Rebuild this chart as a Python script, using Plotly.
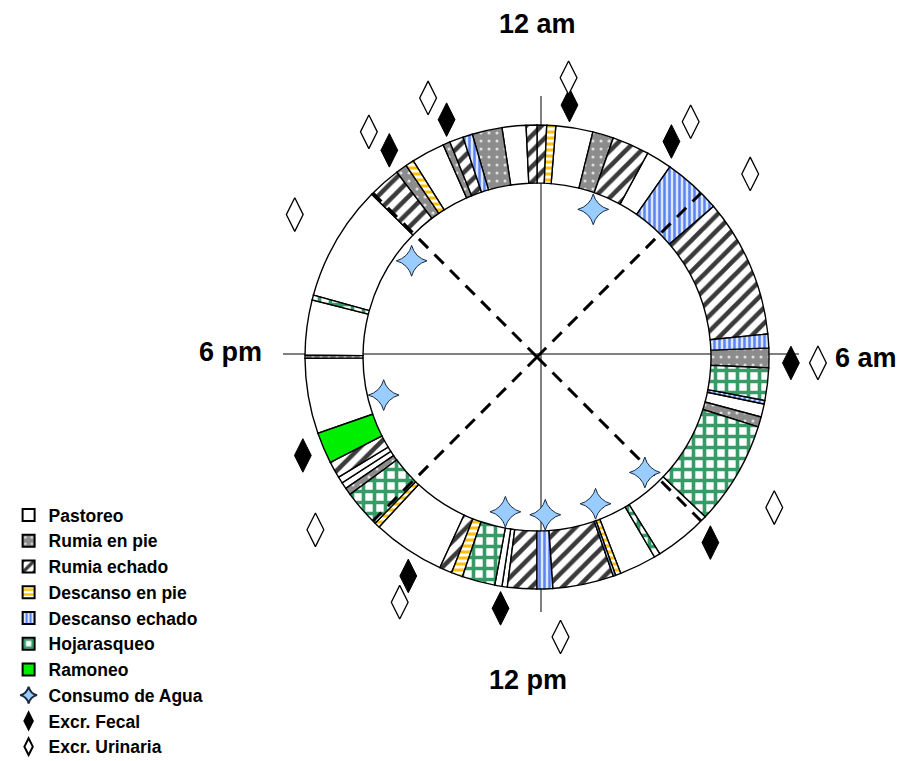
import plotly.graph_objects as go

W, H = 906, 761
FONT = "Liberation Sans, Arial, sans-serif"

# ---------------- data (hours of the day, 0 = 12 am) ----------------
boundaries_h = [0.00, 0.16, 0.31, 0.93, 1.28, 1.90, 2.33, 3.30, 5.62, 5.85,
                6.18, 6.72, 6.78, 7.00, 7.17, 8.90, 9.87, 9.97, 10.59, 10.68,
                10.72, 11.74, 12.00, 12.49, 12.58, 12.70, 13.25, 13.44, 13.65, 14.86,
                14.95, 15.58, 15.70, 15.81, 15.92, 16.20, 16.72, 17.98, 18.03, 18.95,
                19.03, 20.97, 21.52, 21.71, 21.85, 22.41, 22.53, 22.76, 22.92, 23.42,
                23.82, 24.00]
activity_seq = ["Rumia echado", "Descanso en pie", "Pastoreo", "Rumia en pie", "Rumia echado",
                "Pastoreo", "Descanso echado", "Rumia echado", "Descanso echado", "Rumia en pie",
                "Hojarasqueo", "Descanso echado", "Pastoreo", "Rumia en pie", "Hojarasqueo",
                "Pastoreo", "Hojarasqueo", "Pastoreo", "Descanso en pie", "Descanso echado",
                "Rumia echado", "Descanso echado", "Rumia echado", "Pastoreo", "Pastoreo",
                "Hojarasqueo", "Descanso en pie", "Rumia echado", "Pastoreo", "Descanso en pie",
                "Hojarasqueo", "Rumia en pie", "Pastoreo", "Pastoreo", "Rumia echado",
                "Ramoneo", "Pastoreo", "Rumia en pie", "Pastoreo", "Hojarasqueo",
                "Pastoreo", "Rumia echado", "Rumia en pie", "Descanso en pie", "Pastoreo",
                "Rumia en pie", "Rumia echado", "Descanso echado", "Rumia en pie", "Pastoreo",
                "Rumia echado"]
activities = ["Pastoreo", "Rumia en pie", "Rumia echado", "Descanso en pie",
              "Descanso echado", "Hojarasqueo", "Ramoneo"]
water_h = [1.39, 9.13, 10.55, 11.80, 12.77, 17.07, 20.50]
fecal_h = [0.49, 2.13, 6.09, 9.13, 12.55, 14.03, 16.48, 21.63, 22.61]
urine_h = [0.43, 2.21, 3.29, 6.08, 8.16, 11.68, 13.95, 15.47, 20.03, 21.55, 22.48]
divider_h = [3, 9, 15, 21]
clock_labels = ["12 am", "6 am", "12 pm", "6 pm"]

# ---------------- layout geometry (pixels) ----------------
CX, CY, RMAX = 537, 357, 300          # ring polar: 1 radial unit = 1 px
R_IN, R_OUT = 174, 232
R_WATER, R_FECAL, R_URINE = 158, 254, 281
AX_CX, AX_CY, AX_R = 541, 354, 258    # crosshair axes


def dom(cx, cy, r):
    return dict(x=[(cx - r) / W, (cx + r) / W],
                y=[1 - (cy + r) / H, 1 - (cy - r) / H])


styles = {
    "Pastoreo": dict(color="white"),
    "Rumia en pie": dict(color="#8c8c8c",
                         pattern=dict(shape=".", bgcolor="#8c8c8c", fgcolor="#e0e0e0",
                                      size=8, solidity=0.12, fillmode="replace")),
    "Rumia echado": dict(color="#3a3a3a",
                         pattern=dict(shape="/", bgcolor="white", fgcolor="#3a3a3a",
                                      size=11, solidity=0.42, fillmode="replace")),
    "Descanso en pie": dict(color="#ffc000",
                            pattern=dict(shape="-", bgcolor="white", fgcolor="#ffc000",
                                         size=6, solidity=0.5, fillmode="replace")),
    "Descanso echado": dict(color="#5b84f0",
                            pattern=dict(shape="|", bgcolor="#dce6ff", fgcolor="#5b84f0",
                                         size=5, solidity=0.5, fillmode="replace")),
    "Hojarasqueo": dict(color="#379b68",
                        pattern=dict(shape="+", bgcolor="white", fgcolor="#379b68",
                                     size=11, solidity=0.55, fillmode="replace")),
    "Ramoneo": dict(color="#00ee00"),
}

fig = go.Figure()

# invisible trace to create the crosshair subplot
fig.add_trace(go.Scatterpolar(r=[0], theta=[0], mode="markers", marker=dict(opacity=0),
                              showlegend=False, hoverinfo="skip", subplot="polar"))

for name in activities:
    idx = [i for i, a in enumerate(activity_seq) if a == name]
    theta = [(boundaries_h[i] + boundaries_h[i + 1]) / 2 * 15 for i in idx]
    width = [(boundaries_h[i + 1] - boundaries_h[i]) * 15 for i in idx]
    mk = dict(styles[name])
    mk["line"] = dict(color="black", width=1.4)
    fig.add_trace(go.Barpolar(r=[R_OUT - R_IN] * len(idx), base=R_IN, theta=theta,
                              width=width, name=name, marker=mk, subplot="polar2",
                              hoverinfo="name"))

# dashed dividers
dr, dt = [], []
for h in divider_h:
    dr += [0, R_OUT, None]
    dt += [h * 15, h * 15, None]
fig.add_trace(go.Scatterpolar(r=dr, theta=dt, mode="lines", subplot="polar2",
                              line=dict(color="black", width=3, dash="13px,9px"),
                              showlegend=False, hoverinfo="skip"))

fig.add_trace(go.Scatterpolar(r=[R_WATER] * len(water_h), theta=[h * 15 for h in water_h],
                              mode="markers", name="Consumo de Agua", subplot="polar2",
                              marker=dict(symbol="star-diamond", size=22, color="#99ccff",
                                          line=dict(color="#1a2a40", width=1))))
fig.add_trace(go.Scatterpolar(r=[R_FECAL] * len(fecal_h), theta=[h * 15 for h in fecal_h],
                              mode="markers", name="Excr. Fecal", subplot="polar2",
                              marker=dict(symbol="diamond-tall", size=24, color="black",
                                          line=dict(color="black", width=1))))
fig.add_trace(go.Scatterpolar(r=[R_URINE] * len(urine_h), theta=[h * 15 for h in urine_h],
                              mode="markers", name="Excr. Urinaria", subplot="polar2",
                              marker=dict(symbol="diamond-tall", size=24, color="white",
                                          line=dict(color="black", width=1.3))))

label_pos = [(537, 24), (866, 358), (528, 680), (230, 352)]
annotations = []
for txt, (px, py) in zip(clock_labels, label_pos):
    annotations.append(dict(text=txt, x=px / W, y=1 - py / H, xref="paper", yref="paper",
                            xanchor="center", yanchor="middle", showarrow=False,
                            font=dict(family=FONT, size=27, color="black", weight="bold")))

fig.update_layout(
    width=W, height=H, margin=dict(l=0, r=0, t=0, b=0, autoexpand=False),
    paper_bgcolor="white", plot_bgcolor="white",
    showlegend=True,
    legend=dict(x=0.0095, y=1 - 497 / H, xanchor="left", yanchor="top",
                font=dict(family=FONT, size=17.5, color="black", weight="bold"),
                bgcolor="rgba(0,0,0,0)", itemsizing="constant", itemwidth=30,
                tracegroupgap=0),
    polar=dict(domain=dom(AX_CX, AX_CY, AX_R), bgcolor="rgba(0,0,0,0)",
               radialaxis=dict(visible=False, range=[0, 1]),
               angularaxis=dict(rotation=90, direction="clockwise", tickmode="array",
                                tickvals=[0, 90, 180, 270], showticklabels=False, ticks="",
                                showgrid=True, gridcolor="black", gridwidth=1,
                                showline=False)),
    polar2=dict(domain=dom(CX, CY, RMAX), bgcolor="rgba(0,0,0,0)",
                radialaxis=dict(visible=False, range=[0, RMAX]),
                angularaxis=dict(rotation=90, direction="clockwise", showgrid=False,
                                 showticklabels=False, ticks="", showline=False)),
    annotations=annotations,
)

fig.write_html("out.html", config={"displayModeBar": False},
               post_script="document.body.style.margin='0px';document.body.style.padding='0px';")
